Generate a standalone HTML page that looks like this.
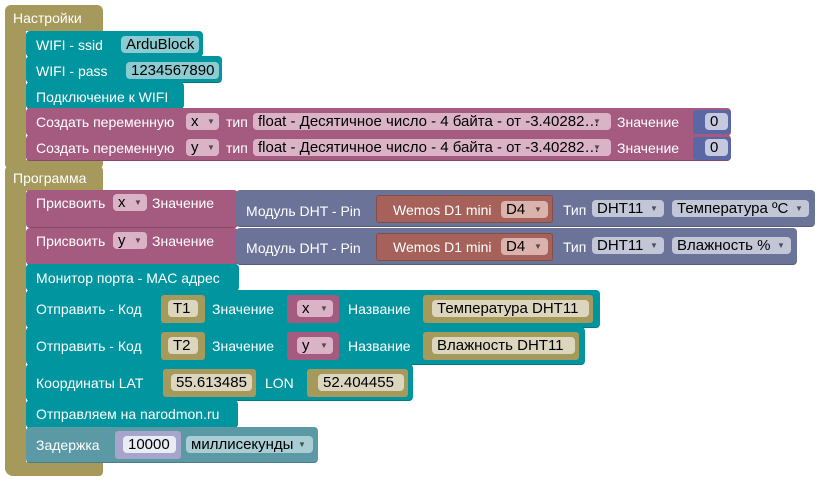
<!DOCTYPE html>
<html><head><meta charset="utf-8"><style>
body{margin:0;width:820px;height:482px;background:#fff;position:relative;overflow:hidden;font-family:"Liberation Sans",Arial,sans-serif;}
div,span{position:absolute;box-sizing:border-box;}
.b{border-radius:4px;border-bottom:1px solid rgba(0,0,0,.18);}
.t{color:#fff;font-size:14px;line-height:16px;white-space:nowrap;}
.f{border-radius:4px;color:#000;font-size:15px;line-height:17px;height:17px;padding:0 5px;white-space:nowrap;}
.arr{font-size:8px;opacity:.6;}
.teal{background:#00959f;}
.mag{background:#a55b80;}
.ol{background:#a5995b;}
.sl{background:#6b7399;}
.br{background:#a6625a;}
.bl{background:#5b67a5;}
.dl{background:#5b9aa4;}
.lav{background:#a6a6cc;}
</style></head><body>
<div class="ol" style="left:5px;top:5px;width:98px;height:26px;border-radius:6px 6px 0 0"></div>
<div class="ol" style="left:5px;top:30px;width:21px;height:135px"></div>
<div class="ol" style="left:5px;top:160px;width:98px;height:8px;border-radius:0 0 4px 4px"></div>
<span class="t" style="left:13px;top:10px">Настройки</span>

<div class="b teal" style="left:26px;top:31px;width:177px;height:26px"></div>
<span class="t" style="left:36px;top:37px">WIFI - ssid</span>
<span class="f" style="left:121px;top:36px;background:#8ccbd1">ArduBlock</span>

<div class="b teal" style="left:26px;top:56px;width:196px;height:27px"></div>
<span class="t" style="left:36px;top:63px">WIFI - pass</span>
<span class="f" style="left:126px;top:62px;background:#8ccbd1">1234567890</span>

<div class="b teal" style="left:26px;top:82px;width:158px;height:27px"></div>
<span class="t" style="left:36px;top:89px">Подключение к WIFI</span>

<div class="b mag" style="left:26px;top:108px;width:705px;height:28px"></div>
<span class="t" style="left:36px;top:114px">Создать переменную</span>
<span class="f" style="left:186px;top:113px;width:33px;background:#dbb3c7">x <span class="arr" style="left:21px;top:0">▼</span></span>
<span class="t" style="left:226px;top:114px">тип</span>
<span class="f" style="left:253px;top:113px;width:358px;background:#dbb3c7">float - Десятичное число - 4 байта - от -3.40282… <span class="arr" style="left:340px">▼</span></span>
<span class="t" style="left:617px;top:114px">Значение</span>
<div class="bl" style="left:693px;top:110px;width:38px;height:24px;border-radius:3px"></div>
<span class="f" style="left:705px;top:113px;width:23px;background:#c5c9e0">0</span>

<div class="b mag" style="left:26px;top:135px;width:705px;height:26px"></div>
<span class="t" style="left:36px;top:140px">Создать переменную</span>
<span class="f" style="left:186px;top:139px;width:33px;background:#dbb3c7">y <span class="arr" style="left:21px;top:0">▼</span></span>
<span class="t" style="left:226px;top:140px">тип</span>
<span class="f" style="left:253px;top:139px;width:358px;background:#dbb3c7">float - Десятичное число - 4 байта - от -3.40282… <span class="arr" style="left:340px">▼</span></span>
<span class="t" style="left:617px;top:140px">Значение</span>
<div class="bl" style="left:693px;top:137px;width:38px;height:23px;border-radius:3px"></div>
<span class="f" style="left:705px;top:139px;width:23px;background:#c5c9e0">0</span>

<div class="ol" style="left:5px;top:165px;width:98px;height:26px;border-radius:6px 6px 0 0"></div>
<div class="ol" style="left:5px;top:190px;width:21px;height:280px"></div>
<div class="ol" style="left:5px;top:462px;width:98px;height:14px;border-radius:0 0 4px 8px"></div>
<span class="t" style="left:13px;top:170px">Программа</span>

<div class="b mag" style="left:26px;top:190px;width:212px;height:38px"></div>
<span class="t" style="left:36px;top:195px">Присвоить</span>
<span class="f" style="left:113px;top:194px;width:34px;background:#dbb3c7">x <span class="arr" style="left:21px">▼</span></span>
<span class="t" style="left:152px;top:195px">Значение</span>
<div class="b sl" style="left:236px;top:190px;width:579px;height:37px"></div>
<span class="t" style="left:246px;top:203px">Модуль DHT - Pin</span>
<div class="br" style="left:376px;top:195px;width:177px;height:28px;border-radius:3px;border:1px solid rgba(0,0,0,.2)"></div>
<span class="t" style="left:393px;top:202px">Wemos D1 mini</span>
<span class="f" style="left:501px;top:201px;width:47px;background:#dbb3ad">D4 <span class="arr" style="left:33px">▼</span></span>
<span class="t" style="left:563px;top:202px">Тип</span>
<span class="f" style="left:592px;top:200px;width:72px;background:#c2c6d6">DHT11 <span class="arr" style="left:58px">▼</span></span>
<span class="f" style="left:672px;top:200px;width:137px;background:#c2c6d6">Температура ºC <span class="arr" style="left:123px">▼</span></span>

<div class="b mag" style="left:26px;top:228px;width:212px;height:37px"></div>
<span class="t" style="left:36px;top:233px">Присвоить</span>
<span class="f" style="left:113px;top:232px;width:34px;background:#dbb3c7">y <span class="arr" style="left:21px">▼</span></span>
<span class="t" style="left:152px;top:233px">Значение</span>
<div class="b sl" style="left:236px;top:228px;width:561px;height:37px"></div>
<span class="t" style="left:246px;top:240px">Модуль DHT - Pin</span>
<div class="br" style="left:376px;top:233px;width:177px;height:28px;border-radius:3px;border:1px solid rgba(0,0,0,.2)"></div>
<span class="t" style="left:393px;top:239px">Wemos D1 mini</span>
<span class="f" style="left:501px;top:238px;width:47px;background:#dbb3ad">D4 <span class="arr" style="left:33px">▼</span></span>
<span class="t" style="left:563px;top:239px">Тип</span>
<span class="f" style="left:592px;top:237px;width:72px;background:#c2c6d6">DHT11 <span class="arr" style="left:58px">▼</span></span>
<span class="f" style="left:672px;top:237px;width:119px;background:#c2c6d6">Влажность % <span class="arr" style="left:105px">▼</span></span>

<div class="b teal" style="left:26px;top:264px;width:213px;height:27px"></div>
<span class="t" style="left:36px;top:270px">Монитор порта - MAC адрес</span>

<div class="b teal" style="left:26px;top:290px;width:574px;height:38px"></div>
<span class="t" style="left:36px;top:301px">Отправить - Код</span>
<div class="ol" style="left:161px;top:295px;width:44px;height:28px;border-radius:3px"></div>
<span class="f" style="left:168px;top:300px;width:30px;background:#ddd6bf">T1</span>
<span class="t" style="left:212px;top:301px">Значение</span>
<div class="mag" style="left:287px;top:295px;width:52px;height:28px;border-radius:3px"></div>
<span class="f" style="left:297px;top:300px;width:36px;background:#dbb3c7">x <span class="arr" style="left:23px">▼</span></span>
<span class="t" style="left:348px;top:301px">Название</span>
<div class="ol" style="left:423px;top:295px;width:170px;height:28px;border-radius:3px"></div>
<span class="f" style="left:432px;top:300px;width:157px;background:#ddd6bf">Температура DHT11</span>

<div class="b teal" style="left:26px;top:327px;width:559px;height:38px"></div>
<span class="t" style="left:36px;top:338px">Отправить - Код</span>
<div class="ol" style="left:161px;top:332px;width:44px;height:28px;border-radius:3px"></div>
<span class="f" style="left:168px;top:337px;width:30px;background:#ddd6bf">T2</span>
<span class="t" style="left:212px;top:338px">Значение</span>
<div class="mag" style="left:287px;top:332px;width:52px;height:28px;border-radius:3px"></div>
<span class="f" style="left:297px;top:337px;width:36px;background:#dbb3c7">y <span class="arr" style="left:23px">▼</span></span>
<span class="t" style="left:348px;top:338px">Название</span>
<div class="ol" style="left:423px;top:332px;width:156px;height:28px;border-radius:3px"></div>
<span class="f" style="left:432px;top:337px;width:143px;background:#ddd6bf">Влажность DHT11</span>

<div class="b teal" style="left:26px;top:364px;width:387px;height:37px"></div>
<span class="t" style="left:36px;top:375px">Координаты LAT</span>
<div class="ol" style="left:163px;top:369px;width:93px;height:28px;border-radius:3px"></div>
<span class="f" style="left:171px;top:374px;width:81px;background:#ddd6bf">55.613485</span>
<span class="t" style="left:265px;top:375px">LON</span>
<div class="ol" style="left:307px;top:369px;width:101px;height:28px;border-radius:3px"></div>
<span class="f" style="left:318px;top:374px;width:86px;background:#ddd6bf">52.404455</span>

<div class="b teal" style="left:26px;top:400px;width:212px;height:28px"></div>
<span class="t" style="left:36px;top:406px">Отправляем на narodmon.ru</span>

<div class="b dl" style="left:26px;top:427px;width:292px;height:36px"></div>
<span class="t" style="left:36px;top:437px">Задержка</span>
<div class="lav" style="left:115px;top:431px;width:66px;height:28px;border-radius:3px"></div>
<span class="f" style="left:123px;top:436px;width:53px;background:#ebebf5">10000</span>
<span class="f" style="left:186px;top:436px;width:127px;background:#a8cdd3">миллисекунды <span class="arr" style="left:112px">▼</span></span>
</body></html>
